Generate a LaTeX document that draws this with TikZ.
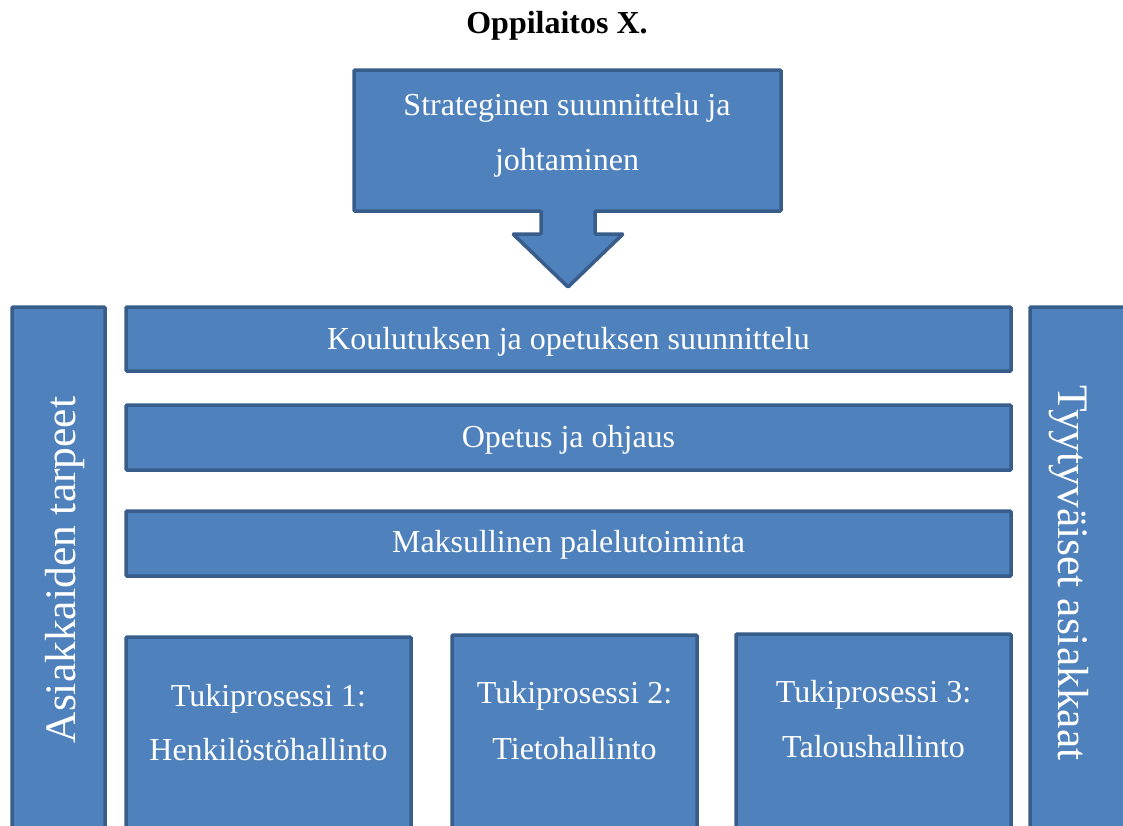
\documentclass[tikz,border=0pt]{standalone}
\usepackage{fontspec}
\setmainfont{Liberation Serif}
\definecolor{boxfill}{HTML}{4F81BD}
\definecolor{boxline}{HTML}{385D8A}
\tikzset{
  shapebox/.style={fill=boxfill, draw=boxline, line width=3.5pt, rounded corners=1pt},
  boxtext/.style={text=white, font=\fontsize{32}{55}\selectfont, anchor=base, inner sep=0pt},
  sidetext/.style={text=white, font=\fontsize{43.5}{50}\selectfont, anchor=base, inner sep=0pt},
  titletext/.style={text=black, font=\bfseries\fontsize{32}{38}\selectfont, anchor=base, inner sep=0pt},
}
\begin{document}
\begin{tikzpicture}[x=1pt,y=-1pt]
\useasboundingbox (0,0) rectangle (1123,825);
\begin{scope}
\clip (0,0) rectangle (1123,825);
\node[titletext] (title) at (557,33) {Oppilaitos X.};
% strategy block arrow
\draw[shapebox] (354,70) -- (781,70) -- (781,211) -- (595,211) -- (595,234)
  -- (623,234) -- (568,287) -- (513,234) -- (541,234) -- (541,211) -- (354,211) -- cycle;
\node[boxtext] (strat1) at (567,115) {Strateginen suunnittelu ja};
\node[boxtext] (strat2) at (567,170) {johtaminen};
% side bars
\draw[shapebox] (12,307) rectangle (105,850);
\draw[shapebox] (1030,307) rectangle (1150,850);
\node[sidetext, rotate=90] (needs) at (75,570) {Asiakkaiden tarpeet};
\node[sidetext, rotate=-90] (satisfied) at (1058,573) {Tyytyväiset asiakkaat};
% rows
\draw[shapebox] (126,307) rectangle (1011,371);
\node[boxtext] (row1) at (568.5,349) {Koulutuksen ja opetuksen suunnittelu};
\draw[shapebox] (126,405) rectangle (1011,470);
\node[boxtext] (row2) at (568.5,447) {Opetus ja ohjaus};
\draw[shapebox] (126,511) rectangle (1011,576);
\node[boxtext] (row3) at (568.5,552) {Maksullinen palelutoiminta};
% support processes
\draw[shapebox] (126,637) rectangle (411,850);
\node[boxtext] (tp1a) at (268.5,706) {Tukiprosessi 1:};
\node[boxtext] (tp1b) at (268.5,760) {Henkilöstöhallinto};
\draw[shapebox] (452,635) rectangle (697,850);
\node[boxtext] (tp2a) at (574.5,703) {Tukiprosessi 2:};
\node[boxtext] (tp2b) at (574.5,759) {Tietohallinto};
\draw[shapebox] (736,634) rectangle (1011,850);
\node[boxtext] (tp3a) at (873.5,702) {Tukiprosessi 3:};
\node[boxtext] (tp3b) at (873.5,757) {Taloushallinto};
\end{scope}
\end{tikzpicture}
\end{document}
